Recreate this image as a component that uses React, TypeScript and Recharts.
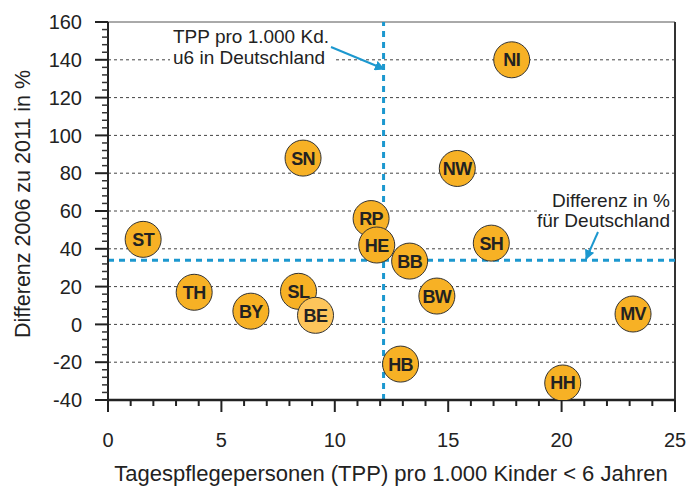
import { ScatterChart, Scatter, XAxis, YAxis, ReferenceLine, CartesianGrid, Customized } from "recharts";

const states = ["ST", "TH", "BY", "SN", "SL", "BE", "RP", "HE", "BB", "SH", "NW", "BW", "NI", "HB", "HH", "MV"];
const tppPer1000 = [1.55, 3.8, 6.3, 8.6, 8.4, 9.15, 11.6, 11.85, 13.3, 16.9, 15.4, 14.5, 17.8, 12.9, 20.05, 23.15];
const diffPercent = [45, 17, 7, 88, 17.5, 4.8, 56, 42, 33.5, 43, 82.5, 15, 140, -21, -31, 5.5];
const lighterStates = ["BE"];

const yTicks = [
  -40, -36, -32, -28, -24, -20, -16, -12, -8, -4, 0, 4, 8, 12, 16, 20, 24, 28, 32, 36, 40, 44, 48, 52, 56, 60,
  64, 68, 72, 76, 80, 84, 88, 92, 96, 100, 104, 108, 112, 116, 120, 124, 128, 132, 136, 140, 144, 148, 152, 156, 160,
];
const xTicks = [0, 1, 2, 3, 4, 5, 6, 7, 8, 9, 10, 11, 12, 13, 14, 15, 16, 17, 18, 19, 20, 21, 22, 23, 24, 25];
const gridValues = [-20, 0, 20, 40, 60, 80, 100, 120, 140];

const germanyTpp = 12.15;
const germanyDiff = 34;

const data = states.map((s, i) => ({ code: s, x: tppPer1000[i], y: diffPercent[i] }));

const FONT = "'Liberation Sans', Arial, Helvetica, sans-serif";
const BLUE = "#1c98cf";
const INK = "#222";

function YTick(props: any) {
  const { x, y, payload } = props;
  const v = payload.value;
  const major = v % 20 === 0;
  return (
    <g>
      <line x1={x - (major ? 13 : 6)} x2={x} y1={y} y2={y} stroke={major ? INK : "#333"} strokeWidth={major ? 2 : 1.5} />
      {major && (
        <text x={x - 26} y={y} dy="0.36em" textAnchor="end" fontSize={20} fill={INK} fontFamily={FONT}>
          {v}
        </text>
      )}
    </g>
  );
}

function XTick(props: any) {
  const { x, y, payload } = props;
  const v = payload.value;
  const major = v % 5 === 0;
  return (
    <g>
      <line x1={x} x2={x} y1={y} y2={y + (major ? 12 : 6)} stroke={INK} strokeWidth={2} />
      {major && (
        <text x={x} y={y + 40} dy="0.36em" textAnchor="middle" fontSize={20} fill={INK} fontFamily={FONT}>
          {v}
        </text>
      )}
    </g>
  );
}

function Bubble(props: any) {
  const { cx, cy, payload } = props;
  const light = lighterStates.includes(payload.code);
  return (
    <g>
      <circle cx={cx} cy={cy} r={18} fill={light ? "#fdc55b" : "#f7b125"} stroke="#333" strokeWidth={1} />
      <text
        x={cx}
        y={cy}
        dy="0.36em"
        textAnchor="middle"
        fontSize={18}
        fontWeight="bold"
        letterSpacing={-0.6}
        fill={INK}
        fontFamily={FONT}
      >
        {payload.code}
      </text>
    </g>
  );
}

function Annotations() {
  return (
    <g fontFamily={FONT} fill={INK}>
      <rect x={170} y={26} width={164} height={42} fill="#fff" />
      <text x={173} y={43} fontSize={19}>TPP pro 1.000 Kd.</text>
      <text x={173} y={64} fontSize={19}>u6 in Deutschland</text>
      <rect x={538} y={190} width={134} height={40} fill="#fff" />
      <text x={670} y={207} fontSize={19} textAnchor="end">Differenz in %</text>
      <text x={670} y={227} fontSize={19} textAnchor="end">für Deutschland</text>
      <text x={30} y={204} fontSize={21.5} textAnchor="middle" transform="rotate(-90 30 204)">
        Differenz 2006 zu 2011 in %
      </text>
      <text x={391} y={481} fontSize={22} textAnchor="middle">
        Tagespflegepersonen (TPP) pro 1.000 Kinder &lt; 6 Jahren
      </text>
    </g>
  );
}

function Arrows() {
  return (
    <g>
      <defs>
        <marker id="arrowHead" viewBox="0 0 10 10" refX="9" refY="5" markerWidth="5" markerHeight="5" orient="auto">
          <path d="M0,0 L10,5 L0,10 z" fill={BLUE} />
        </marker>
      </defs>
      <line x1={331} y1={47} x2={384} y2={69} stroke={BLUE} strokeWidth={2} markerEnd="url(#arrowHead)" />
      <line x1={598} y1={232} x2={586} y2={259} stroke={BLUE} strokeWidth={2} markerEnd="url(#arrowHead)" />
    </g>
  );
}

export default function App() {
  return (
    <div style={{ position: "absolute", left: 0, top: 0, background: "#fff", fontFamily: FONT }}>
      <ScatterChart width={688} height={487} margin={{ top: 22, right: 13, bottom: 0, left: 0 }}>
        <CartesianGrid
          vertical={false}
          horizontalValues={gridValues}
          stroke="#444"
          strokeWidth={1}
          strokeDasharray="3 3"
        />
        <XAxis
          dataKey="x"
          type="number"
          domain={[0, 25]}
          ticks={xTicks}
          interval={0}
          height={87}
          tickSize={0}
          tickMargin={0}
          tickLine={false}
          tick={<XTick />}
          axisLine={{ stroke: INK, strokeWidth: 2.5 }}
          allowDataOverflow
        />
        <YAxis
          dataKey="y"
          type="number"
          domain={[-40, 160]}
          ticks={yTicks}
          interval={0}
          width={108}
          tickSize={0}
          tickMargin={0}
          tickLine={false}
          tick={<YTick />}
          axisLine={{ stroke: INK, strokeWidth: 2 }}
          allowDataOverflow
        />
        <Customized component={<Annotations />} />
        <ReferenceLine y={160} stroke="#555" strokeWidth={1} />
        <ReferenceLine x={25} stroke="#333" strokeWidth={2} />
        <ReferenceLine x={germanyTpp} stroke={BLUE} strokeWidth={3} strokeDasharray="6 5" />
        <ReferenceLine y={germanyDiff} stroke={BLUE} strokeWidth={3} strokeDasharray="6 5" />
        <Customized component={<Arrows />} />
        <Scatter data={data} shape={<Bubble />} isAnimationActive={false} />
      </ScatterChart>
    </div>
  );
}
